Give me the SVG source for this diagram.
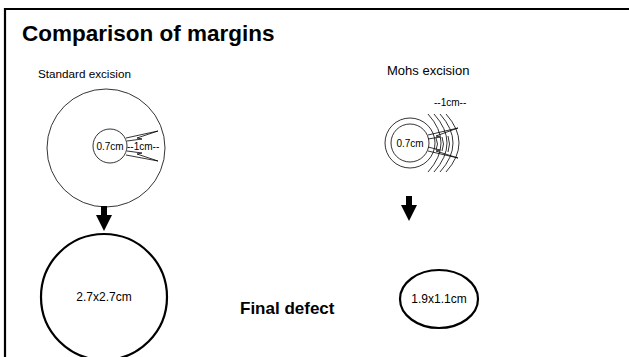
<svg xmlns="http://www.w3.org/2000/svg" width="629" height="357" viewBox="0 0 629 357">
<style>
text{font-family:"Liberation Sans",Arial,sans-serif;fill:#000}
.thin{fill:none;stroke:#000;stroke-width:0.8}
.thick{fill:none;stroke:#000;stroke-width:2.2}
.lbl{font-size:10px}
</style>
<rect x="0" y="0" width="629" height="357" fill="#fff"/>
<path d="M5,358 V9 H630" fill="none" stroke="#000" stroke-width="2.2"/>
<text x="22" y="41" font-size="22.5" font-weight="bold">Comparison of margins</text>
<text x="38" y="78" font-size="11.7">Standard excision</text>
<text x="387" y="75" font-size="13">Mohs excision</text>

<g id="standard">
<circle class="thin" cx="106" cy="148" r="59"/>
<circle class="thin" cx="110" cy="146" r="17"/>
<text class="lbl" x="110" y="149.5" text-anchor="middle">0.7cm</text>
<polyline class="thin" points="126,138 158,131 137,138 142,139 127,141"/>
<polyline class="thin" points="126,155 158,161 137,154 142,153 127,151"/>
<text class="lbl" x="127" y="149.5">--1cm--</text>
</g>

<g id="mohs">
<circle class="thin" cx="410" cy="143" r="25"/>
<circle class="thin" cx="410" cy="143" r="19"/>
<text class="lbl" x="410" y="146.5" text-anchor="middle">0.7cm</text>
<text class="lbl" x="434" y="106">--1cm--</text>
<path class="thin" d="M428,114 Q454,143 428,172 M434,114 Q460,143 434,172 M440,114 Q466,143 440,172 M446,114 Q472,143 446,172"/>
<polyline class="thin" points="428,135 458,128 436,136 440,137 428,139"/>
<polyline class="thin" points="428,151 458,158 436,151 440,150 428,147"/>
<path class="thin" d="M436,138 Q439,144 436,150 M442,137 Q445,144 442,151 M448,136 Q451,144 448,152"/>
</g>

<g id="connectors">
<path d="M101,206 h6 v9 h5 l-8,16 l-8,-16 h5 z" fill="#000"/>
<path d="M406,196 h6 v9 h5 l-8,16 l-8,-16 h5 z" fill="#000"/>
</g>

<g id="defect-standard">
<circle class="thick" cx="104" cy="297" r="63"/>
<text x="104" y="301" font-size="12" text-anchor="middle">2.7x2.7cm</text>
</g>
<text x="240" y="314" font-size="17" font-weight="bold">Final defect</text>
<g id="defect-mohs">
<ellipse class="thick" cx="439" cy="299" rx="39" ry="29"/>
<text x="439" y="303" font-size="12" text-anchor="middle">1.9x1.1cm</text>
</g>
</svg>
